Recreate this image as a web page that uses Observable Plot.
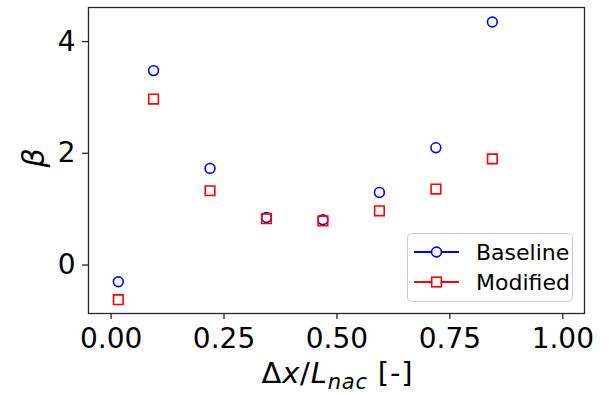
<!DOCTYPE html>
<html>
<head>
<meta charset="utf-8">
<script src="https://cdn.jsdelivr.net/npm/d3@7"></script>
<script src="https://cdn.jsdelivr.net/npm/@observablehq/plot@0.6"></script>
<style>
  html, body { margin: 0; padding: 0; background: white; }
  #wrap { position: relative; width: 609px; height: 395px; font-family: "DejaVu Sans", sans-serif; }
  #legend { position: absolute; left: 407px; top: 233px; }
</style>
</head>
<body>
<div id="wrap"></div>
<script>
const xs = [0.016, 0.094, 0.219, 0.344, 0.469, 0.594, 0.719, 0.844];
const baseline = [-0.30, 3.48, 1.73, 0.85, 0.81, 1.30, 2.10, 4.35];
const modified = [-0.62, 2.97, 1.33, 0.83, 0.79, 0.97, 1.36, 1.90];
const xTicks = [0, 0.25, 0.5, 0.75, 1.0];
const yTicks = [0, 2, 4];
const seriesNames = ["Baseline", "Modified"];
const seriesColors = ["#0000ff", "#ff0000"];

const dataB = xs.map((x, i) => ({x, y: baseline[i]}));
const dataM = xs.map((x, i) => ({x, y: modified[i]}));

const chart = Plot.plot({
  width: 609,
  height: 395,
  marginLeft: 88,
  marginTop: 7,
  marginRight: 25,
  marginBottom: 82,
  style: {fontFamily: "DejaVu Sans", background: "white", color: "black"},
  x: {domain: [-0.05, 1.048]},
  y: {domain: [-0.868, 4.61]},
  marks: [
    Plot.axisX(xTicks, {tickSize: 6, tickPadding: 9, fontSize: 28, tickFormat: d => d.toFixed(2), label: null, stroke: "#262626", strokeWidth: 1.3, fill: "black"}),
    Plot.axisY(yTicks, {tickSize: 6, tickPadding: 7, fontSize: 28, tickFormat: d => String(d), label: null, stroke: "#262626", strokeWidth: 1.3, fill: "black"}),
    Plot.dot(dataB, {x: "x", y: "y", symbol: "circle", r: 4.9, stroke: seriesColors[0], strokeWidth: 1.6, fill: "none"}),
    Plot.dot(dataM, {x: "x", y: "y", symbol: "square", r: 5.4, stroke: seriesColors[1], strokeWidth: 1.6, fill: "none"}),
    Plot.frame({stroke: "#262626", strokeWidth: 1.3})
  ]
});

const wrap = document.getElementById("wrap");
wrap.appendChild(chart);

const svg = d3.select(chart);
// x label
const xl = svg.append("text")
  .attr("x", 337).attr("y", 383)
  .attr("text-anchor", "middle")
  .attr("font-size", 29)
  .attr("font-family", "DejaVu Sans")
  .attr("fill", "black")
  .attr("textLength", 151)
  .attr("lengthAdjust", "spacing");
xl.append("tspan").text("Δ");
xl.append("tspan").attr("font-style", "italic").text("x");
xl.append("tspan").text("/");
xl.append("tspan").attr("font-style", "italic").text("L");
xl.append("tspan").attr("font-style", "italic").attr("font-size", 21).attr("dy", 6).text("nac");
xl.append("tspan").attr("dy", -6).text(" [-]");

// y label
svg.append("text")
  .attr("transform", "translate(44,158) rotate(-90)")
  .attr("text-anchor", "middle")
  .attr("font-size", 30)
  .attr("font-style", "italic")
  .attr("font-family", "DejaVu Sans")
  .attr("fill", "black")
  .text("β");

// legend
const leg = d3.select(wrap).append("svg")
  .attr("id", "legend")
  .attr("width", 167).attr("height", 70);
leg.append("rect").attr("x", 0.5).attr("y", 0.5).attr("width", 165).attr("height", 68)
  .attr("rx", 4).attr("fill", "white").attr("fill-opacity", 0.8).attr("stroke", "#cccccc");
seriesNames.forEach((name, i) => {
  const cy = 19 + i * 30;
  const g = leg.append("g");
  g.append("line").attr("x1", 7).attr("x2", 52).attr("y1", cy).attr("y2", cy)
    .attr("stroke", seriesColors[i]).attr("stroke-width", 2);
  if (i === 0) {
    g.append("circle").attr("cx", 29.5).attr("cy", cy).attr("r", 4.9)
      .attr("fill", "white").attr("stroke", seriesColors[i]).attr("stroke-width", 1.6);
  } else {
    g.append("rect").attr("x", 29.5 - 4.8).attr("y", cy - 4.8).attr("width", 9.6).attr("height", 9.6)
      .attr("fill", "white").attr("stroke", seriesColors[i]).attr("stroke-width", 1.6);
  }
  g.append("text").attr("x", 69).attr("y", cy + 8)
    .attr("font-size", 22).attr("font-family", "DejaVu Sans").attr("fill", "black").text(name);
});
</script>
</body>
</html>
